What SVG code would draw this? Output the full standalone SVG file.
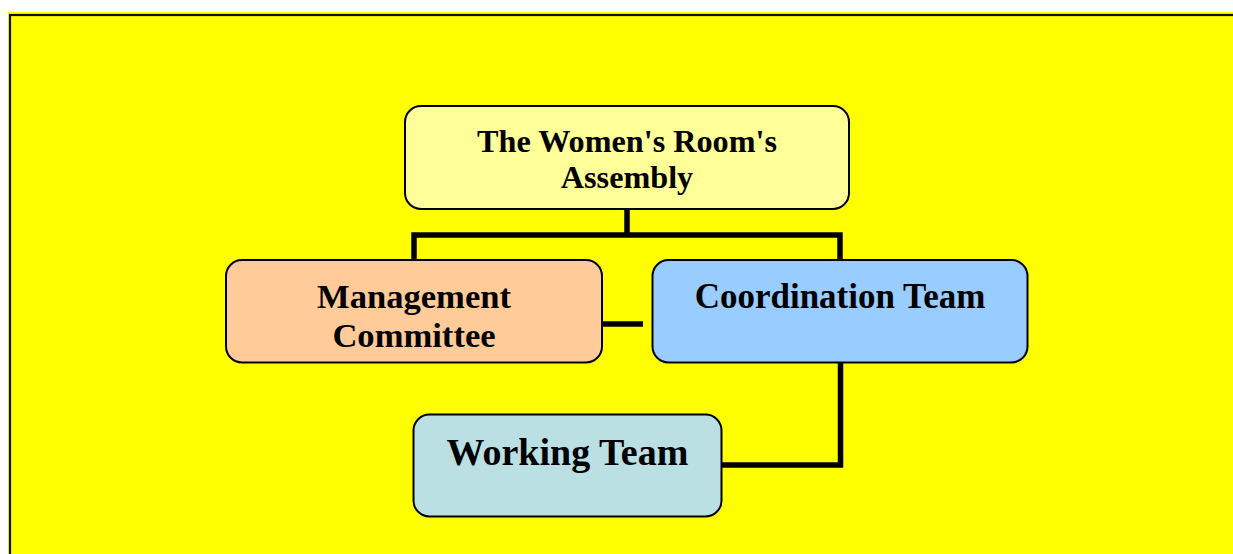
<svg xmlns="http://www.w3.org/2000/svg" width="1233" height="554" viewBox="0 0 1233 554">
<style>
.box{stroke:#000;stroke-width:2}
.t{font-family:"Liberation Serif","Times New Roman",serif;font-weight:bold;fill:#000;text-anchor:middle}
.c{fill:none;stroke:#000;stroke-width:5.5;stroke-linecap:butt;stroke-linejoin:miter}
</style>
<rect x="0" y="0" width="1233" height="554" fill="#fff"/>
<rect x="8" y="12" width="1240" height="560" fill="#ffff00"/>
<rect x="10" y="15" width="1240" height="560" fill="none" stroke="#111" stroke-width="2.2"/>
<g id="connectors">
<path class="c" d="M627 209 V235 M414 261 V235 H840 V261"/>
<path class="c" d="M593 324 H643"/>
<path class="c" d="M840.5 362 V465 H722"/>
</g>
<g id="assembly">
<rect class="box" x="405" y="106" width="444" height="103" rx="16" fill="#ffff99"/>
<text class="t" x="627" y="151.5" font-size="32.2">The Women's Room's</text>
<text class="t" x="627" y="187.5" font-size="32.2">Assembly</text>
</g>
<g id="management">
<rect class="box" x="226" y="260" width="376" height="102.5" rx="16" fill="#ffcc99"/>
<text class="t" x="414" y="308" font-size="34.6">Management</text>
<text class="t" x="414" y="346.5" font-size="34.6">Committee</text>
</g>
<g id="coordination">
<rect class="box" x="652.5" y="260" width="375" height="102.5" rx="16" fill="#99ccff"/>
<text class="t" x="840" y="308" font-size="35">Coordination Team</text>
</g>
<g id="working">
<rect class="box" x="413.5" y="414.5" width="308" height="102" rx="16" fill="#bbe0e3"/>
<text class="t" x="567.5" y="465" font-size="38">Working Team</text>
</g>
</svg>
